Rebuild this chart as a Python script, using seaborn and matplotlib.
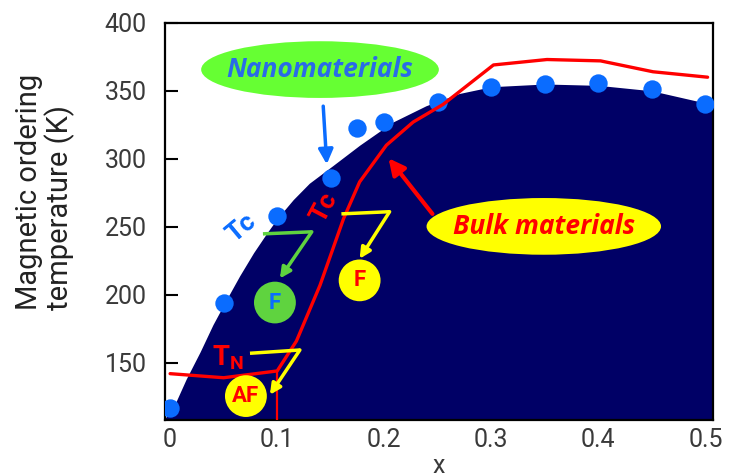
import numpy as np
import pandas as pd
import seaborn as sns
import matplotlib.pyplot as plt
from matplotlib.patches import Ellipse

# nanomaterials Tc (blue dots)
nano_x = [0.0, 0.05, 0.10, 0.15, 0.175, 0.20, 0.25, 0.30, 0.35, 0.40, 0.45, 0.50]
nano_tc = [117, 194, 258, 286, 323, 327, 342, 353, 355, 356, 351, 340]

# bulk materials: T_N then Tc (red line)
bulk_x = [0.0, 0.05, 0.10, 0.118, 0.14, 0.162, 0.177, 0.202, 0.227, 0.255, 0.302, 0.352, 0.402, 0.451, 0.502]
bulk_t = [142, 139, 144, 166, 207, 256, 283, 310, 327, 340, 369, 373, 372, 364, 360]

# outline of the dark (ordered) region
dome_x = [-0.006, 0.003, 0.015, 0.028, 0.04, 0.053, 0.065, 0.078, 0.09, 0.1, 0.115, 0.13, 0.152,
          0.177, 0.208, 0.239, 0.27, 0.3, 0.35, 0.4, 0.45, 0.5, 0.51]
dome_y = [108, 117, 138, 158, 178, 197, 214, 231, 245, 256, 270, 282, 295,
          310, 327, 339, 348, 353, 355, 354, 350, 341, 337]

NAVY = '#000066'
BLUE = '#0a6cff'
RED = '#ff0000'
YELLOW = '#ffff00'
GREEN = '#66ff33'
GREEN2 = '#5fd33f'

sns.set_style('ticks')
plt.rcParams['font.family'] = ['Roboto', 'DejaVu Sans']

fig = plt.figure(figsize=(7.29, 4.75), dpi=100)
ax = fig.add_axes([0.226, 0.116, 0.752, 0.836])

ax.fill_between(dome_x, dome_y, 100, color=NAVY, lw=0, zorder=1)

nano = pd.DataFrame({'x': nano_x, 'Tc': nano_tc})
bulk = pd.DataFrame({'x': bulk_x, 'T': bulk_t})
sns.scatterplot(data=nano, x='x', y='Tc', color=BLUE, s=175, marker='o',
                linewidth=0, ax=ax, zorder=3)
sns.lineplot(data=bulk, x='x', y='T', sort=False, color=RED, lw=2.4, ax=ax, zorder=4)
ax.plot([0.1, 0.1], [108, 144], color=RED, lw=1.6, zorder=4)

ax.set_xlim(-0.005, 0.507)
ax.set_ylim(108, 400)
ax.set_xticks([0, 0.1, 0.2, 0.3, 0.4, 0.5])
ax.set_xticklabels(['0', '0.1', '0.2', '0.3', '0.4', '0.5'])
ax.set_yticks([150, 200, 250, 300, 350, 400])
ax.tick_params(axis='both', direction='in', length=9, width=1.5, colors='black',
               labelsize=18, labelcolor='#3a3a3a')
ax.tick_params(axis='x', pad=6)
ax.tick_params(axis='y', pad=13)
for s in ax.spines.values():
    s.set_linewidth(1.6)
    s.set_color('black')
ax.set_xlabel('x', fontsize=18, color='#3a3a3a', labelpad=1)
ax.set_ylabel('')
fig.text(0.062, 0.595, 'Magnetic ordering\ntemperature (K)', rotation=90,
         ha='center', va='center', multialignment='left', fontsize=21,
         color='#222222', linespacing=1.05)

# callout ellipses
ax.add_patch(Ellipse((0.14, 365.6), 0.222, 41.7, color=GREEN, lw=0, zorder=5))
ax.text(0.14, 365.6, 'Nanomaterials', color='#2a6be8', fontsize=19, family='Open Sans',
        style='italic', weight='bold', ha='center', va='center', zorder=6)
ax.annotate('', xy=(0.1463, 296), xytext=(0.143, 338.7),
            arrowprops=dict(arrowstyle='-|>', color=BLUE, lw=2.5, mutation_scale=22,
                            shrinkA=0, shrinkB=0), zorder=6)

ax.add_patch(Ellipse((0.349, 250.3), 0.219, 41.7, color=YELLOW, lw=0, zorder=5))
ax.text(0.349, 250.3, 'Bulk materials', color=RED, fontsize=19, family='Open Sans',
        style='italic', weight='bold', ha='center', va='center', zorder=6)
ax.annotate('', xy=(0.204, 300.4), xytext=(0.245, 259.5),
            arrowprops=dict(arrowstyle='-|>', color=RED, lw=3, mutation_scale=24,
                            shrinkA=0, shrinkB=0), zorder=6)

# Tc / TN labels
ax.text(0.0668, 249, 'Tc', color=BLUE, fontsize=19, weight='bold', rotation=40,
        ha='center', va='center', zorder=6)
ax.text(0.1445, 264, 'Tc', color=RED, fontsize=19, weight='bold', rotation=62,
        ha='center', va='center', zorder=6)
ax.text(0.054, 154, 'T$_\\mathregular{N}$', color=RED, fontsize=20, weight='bold',
        ha='center', va='center', zorder=6)


def bent_arrow(x0, x1, y0, y1, tip, color):
    ax.plot([x0, x1], [y0, y1], color=color, lw=2.5, zorder=6, solid_capstyle='butt')
    ax.annotate('', xy=tip, xytext=(x1, y1),
                arrowprops=dict(arrowstyle='-|>', color=color, lw=2.5, mutation_scale=16,
                                shrinkA=0, shrinkB=0), zorder=6)


bent_arrow(0.0867, 0.1323, 244.8, 246.3, (0.1025, 212), GREEN2)
bent_arrow(0.160, 0.205, 259.5, 261.1, (0.177, 226.5), YELLOW)
bent_arrow(0.0746, 0.1212, 157.0, 159.4, (0.0932, 126.5), YELLOW)

# phase circles
circ_w, circ_h = 0.0391, 30.7
for (cx, cy, fc, label, tc) in [(0.0979, 194.3, GREEN2, 'F', BLUE),
                                 (0.177, 210.6, YELLOW, 'F', RED),
                                 (0.0708, 125.5, YELLOW, 'AF', RED)]:
    ax.add_patch(Ellipse((cx, cy), circ_w, circ_h, color=fc, lw=0, zorder=7))
    ax.text(cx, cy, label, color=tc, fontsize=16, weight='bold', ha='center',
            va='center', zorder=8)

fig.savefig('out.png', dpi=100)
